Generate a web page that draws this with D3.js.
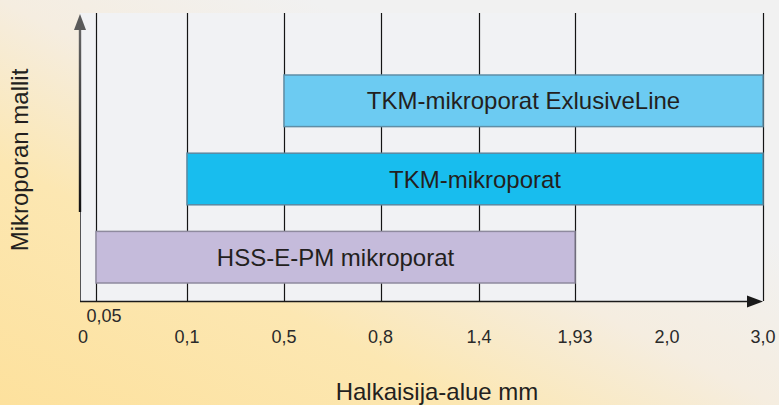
<!DOCTYPE html>
<html>
<head>
<meta charset="utf-8">
<script src="https://cdn.jsdelivr.net/npm/d3@7"></script>
<style>
  html, body { margin: 0; padding: 0; background: #f1f1f1; }
  svg { display: block; }
  text { font-family: "Liberation Sans", Arial, Helvetica, sans-serif; fill: #231f20; }
</style>
</head>
<body>
<svg id="chart" width="779" height="405"></svg>
<script>
// ---- data ----
const tickValues = [0, 0.05, 0.1, 0.5, 0.8, 1.4, 1.93, 2.0, 3.0];
const tickLabels = ["0", "0,05", "0,1", "0,5", "0,8", "1,4", "1,93", "2,0", "3,0"];
const gridValues = [0.05, 0.1, 0.5, 0.8, 1.4, 1.93, 3.0];
const categories = ["TKM-mikroporat ExlusiveLine", "TKM-mikroporat", "HSS-E-PM mikroporat"];
const rangeStart = [0.5, 0.1, 0.05];
const rangeEnd = [3.0, 3.0, 1.93];
const barColors = ["#6ccbf2", "#18bdee", "#c5bbdb"];
const barStrokes = ["#5f8ea6", "#5a8aa2", "#8e8a9e"];
const xTitle = "Halkaisija-alue mm";
const yTitle = "Mikroporan mallit";

// ---- layout ----
const W = 779, H = 405;
const pLeft = 80, pRight = 763, pTop = 13, pBottom = 301;
// the axis is not linear: each tick gets its own slot along the axis
const xRange = [pLeft, 96, 187, 284, 380.5, 479, 575, 667, pRight];

const svg = d3.select("#chart");
const defs = svg.append("defs");
const grad = defs.append("linearGradient").attr("id", "bg")
  .attr("x1", 0).attr("y1", 1).attr("x2", 1).attr("y2", 0);
[[0, "#fde19d"], [0.3, "#fce7b2"], [0.5, "#f5ede0"], [0.7, "#f1f1f1"], [1, "#f1f1f1"]]
  .forEach(([o, c]) => grad.append("stop").attr("offset", o).attr("stop-color", c));

svg.append("rect").attr("width", W).attr("height", H).attr("fill", "url(#bg)");

const x = d3.scaleLinear().domain(tickValues).range(xRange);
const y = d3.scaleBand().domain(categories).range([75, 283]).paddingInner(0.34).paddingOuter(0);

// plot background
svg.append("rect").attr("x", pLeft).attr("y", pTop)
  .attr("width", pRight - pLeft).attr("height", pBottom - pTop)
  .attr("fill", "#f1f2f4");

// gridlines
svg.append("g").selectAll("line").data(gridValues).join("line")
  .attr("x1", d => Math.round(x(d)) + 0.5).attr("x2", d => Math.round(x(d)) + 0.5)
  .attr("y1", pTop).attr("y2", pBottom)
  .attr("stroke", "#141414").attr("stroke-width", 1.2);

// bars
const bars = svg.append("g").selectAll("g").data(categories).join("g");
bars.append("rect")
  .attr("x", (d, i) => x(rangeStart[i]))
  .attr("y", d => y(d))
  .attr("width", (d, i) => x(rangeEnd[i]) - x(rangeStart[i]))
  .attr("height", y.bandwidth())
  .attr("fill", (d, i) => barColors[i])
  .attr("stroke", (d, i) => barStrokes[i])
  .attr("stroke-width", 1.5);
bars.append("text")
  .attr("x", (d, i) => (x(rangeStart[i]) + x(rangeEnd[i])) / 2)
  .attr("y", d => y(d) + y.bandwidth() / 2 + 8.5)
  .attr("text-anchor", "middle")
  .style("font-size", "24px")
  .text(d => d);

// y axis (arrow)
svg.append("line").attr("x1", pLeft + 0.5).attr("x2", pLeft + 0.5)
  .attr("y1", 212).attr("y2", pBottom).attr("stroke", "#555").attr("stroke-width", 1);
const yg = defs.append("linearGradient").attr("id", "yax")
  .attr("x1", 0).attr("y1", 0).attr("x2", 0).attr("y2", 1);
yg.append("stop").attr("offset", 0).attr("stop-color", "#666");
yg.append("stop").attr("offset", 1).attr("stop-color", "#111");
svg.append("rect").attr("x", pLeft - 1.2).attr("y", 28).attr("width", 2.4).attr("height", 184)
  .attr("fill", "url(#yax)");
svg.append("path").attr("d", `M${pLeft - 6},30 L${pLeft + 6},30 L${pLeft},14 Z`).attr("fill", "#5a5a5a");

// x axis (arrow)
svg.append("line").attr("x1", pLeft).attr("x2", 750)
  .attr("y1", pBottom + 0.5).attr("y2", pBottom + 0.5)
  .attr("stroke", "#1a1a1a").attr("stroke-width", 1.6);
svg.append("path").attr("d", `M747,${pBottom - 5.5} L747,${pBottom + 6.5} L${pRight},${pBottom + 0.5} Z`).attr("fill", "#1a1a1a");

// tick labels
const labelG = svg.append("g").style("font-size", "18px");
tickValues.forEach((v, i) => {
  const small = v === 0.05;
  labelG.append("text")
    .attr("x", x(v) + (v === 0 ? 3 : small ? 8 : 0))
    .attr("y", small ? 322 : 343)
    .attr("text-anchor", "middle")
    .style("fill", "#2a2a2a")
    .text(tickLabels[i]);
});

// axis titles
svg.append("text").attr("x", 437).attr("y", 400)
  .attr("text-anchor", "middle").style("font-size", "24px").text(xTitle);
svg.append("text").attr("transform", "translate(28,160) rotate(-90)")
  .attr("text-anchor", "middle").style("font-size", "24px").text(yTitle);
</script>
</body>
</html>
